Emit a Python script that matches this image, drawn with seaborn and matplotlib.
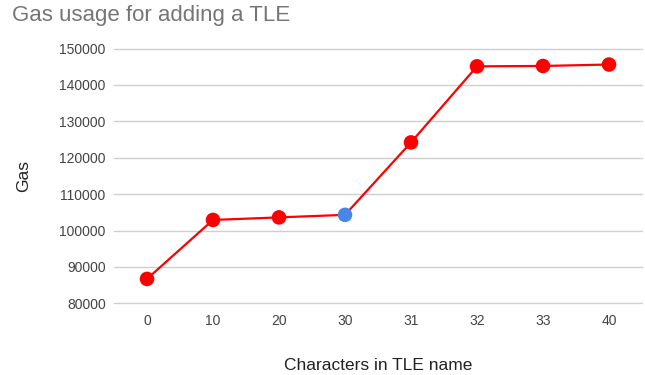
import matplotlib
matplotlib.use("Agg")
import matplotlib.pyplot as plt
import seaborn as sns
import pandas as pd

# Data
chars = ["0", "10", "20", "30", "31", "32", "33", "40"]
gas = [86700, 102900, 103600, 104300, 124200, 145100, 145200, 145600]
point_group = ["normal", "normal", "normal", "highlight", "normal", "normal", "normal", "normal"]
y_ticks = [80000, 90000, 100000, 110000, 120000, 130000, 140000, 150000]

title = "Gas usage for adding a TLE"
x_label = "Characters in TLE name"
y_label = "Gas"

df = pd.DataFrame({"chars": chars, "gas": gas, "group": point_group})

sns.set_theme(style="white")
plt.rcParams["font.family"] = ["Liberation Sans", "DejaVu Sans"]

fig = plt.figure(figsize=(6.45, 3.75), dpi=100)
ax = fig.add_axes([114 / 645, 1 - 303.3 / 375, 528 / 645, (303.3 - 48.5) / 375])

sns.lineplot(data=df, x="chars", y="gas", color="#ff0000", linewidth=1.6,
             ax=ax, sort=False, zorder=2)
sns.scatterplot(data=df, x="chars", y="gas", hue="group",
                palette={"normal": "#ff0000", "highlight": "#4a86e8"},
                s=110, linewidth=0, ax=ax, legend=False, zorder=3)

ax.set_xlim(-0.5, len(chars) - 0.5)
ax.set_ylim(80000, 150000)
ax.set_yticks(y_ticks)
ax.set_yticklabels([str(v) for v in y_ticks])
ax.grid(axis="y", color="#cfcfcf", linewidth=1.0)
ax.grid(axis="x", visible=False)
for gl in ax.get_ygridlines():
    gl.set_clip_on(False)
ax.set_axisbelow(True)
for s in ax.spines.values():
    s.set_visible(False)
ax.tick_params(axis="both", length=0, labelsize=10, colors="#444444")
ax.tick_params(axis="y", pad=6)
ax.tick_params(axis="x", pad=8)

ax.set_xlabel(x_label, fontsize=12.5, color="#222222", labelpad=21)
ax.set_ylabel(y_label, fontsize=12.5, color="#222222", labelpad=20)

fig.text(12 / 645, 1 - 5 / 375, title, fontsize=16, color="#757575",
         ha="left", va="top")

fig.savefig("out.png", dpi=100)
